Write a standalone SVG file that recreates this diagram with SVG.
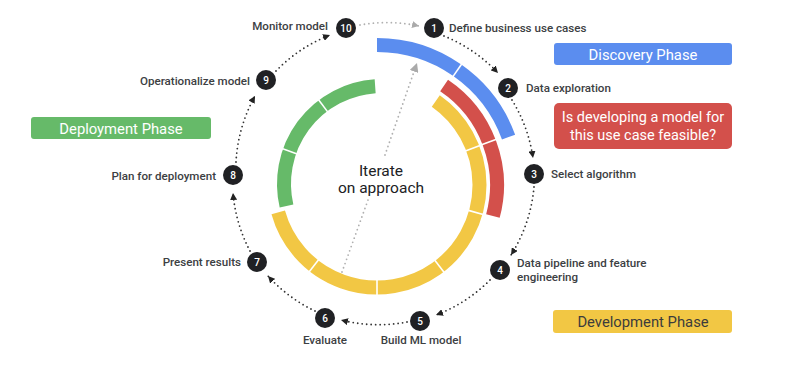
<svg xmlns="http://www.w3.org/2000/svg" width="800" height="366" viewBox="0 0 800 366">
<defs>
<style>
.lbl{font-family:Roboto,"Liberation Sans",sans-serif;font-size:11.6px;font-weight:500;fill:#3c4043}
.num{font-family:Roboto,"Liberation Sans",sans-serif;font-size:10px;font-weight:500;fill:#fff;text-anchor:middle}
.dot{fill:#202124}
.ring{fill:none;stroke-width:14;stroke-linecap:butt}
.sep{stroke:#fff;stroke-width:1.6}
.conn{fill:none;stroke:#333;stroke-width:1.8;stroke-dasharray:0 4.5;stroke-linecap:round}
.gray{stroke:#b0b0b0}
.phase{font-family:Roboto,"Liberation Sans",sans-serif;font-size:14.8px;fill:#fff;text-anchor:middle}
.iter{font-family:Roboto,"Liberation Sans",sans-serif;font-size:15.5px;fill:#202124;text-anchor:middle}
</style>
<marker id="ah" markerUnits="userSpaceOnUse" markerWidth="8" markerHeight="7" refX="7" refY="3.5" orient="auto"><path d="M0,0 L7,3.5 L0,7 z" fill="#222"/></marker>
<marker id="ahg" markerUnits="userSpaceOnUse" markerWidth="8" markerHeight="7" refX="7" refY="3.5" orient="auto"><path d="M0,0 L7,3.5 L0,7 z" fill="#aaa"/></marker>
<marker id="ahb" markerUnits="userSpaceOnUse" markerWidth="10" markerHeight="9" refX="9" refY="4.5" orient="auto"><path d="M0,0 L9,4.5 L0,9 z" fill="#aaa"/></marker>
</defs>
<rect width="800" height="366" fill="#fff"/>

<g id="rings">
<path class="ring" stroke="#f2c744" d="M 435.79 101.03 A 102.5 102.5 0 1 1 278.23 212.39"/>
<path class="ring" stroke="#d3504b" d="M 444.10 85.52 A 120 120 0 0 1 492.91 216.06"/>
<path class="ring" stroke="#5b8def" d="M 377 45 A 140 140 0 0 1 508.56 137.12"/>
<path class="ring" stroke="#66ba69" d="M 286.51 206.05 A 98 98 0 0 1 375.16 86.24"/>
<line class="sep" x1="464.76" y1="151.31" x2="480.63" y2="145.22"/>
<line class="sep" x1="467.58" y1="210.12" x2="483.96" y2="214.66"/>
<line class="sep" x1="434.23" y1="259.58" x2="444.58" y2="273.07"/>
<line class="sep" x1="377" y1="279" x2="377" y2="296"/>
<line class="sep" x1="319.13" y1="259.07" x2="308.66" y2="272.47"/>
<line class="sep" x1="481.56" y1="144.86" x2="496.50" y2="139.13"/>
<line class="sep" x1="452.72" y1="76.87" x2="461.89" y2="63.76"/>
<line class="sep" x1="297.17" y1="153.96" x2="282.08" y2="148.62"/>
<line class="sep" x1="327.84" y1="112.13" x2="318.21" y2="99.35"/>
</g>

<g id="connectors">
<path class="conn gray" marker-end="url(#ahg)" d="M 360 25 A 152 152 0 0 1 419 26"/>
<path class="conn" marker-end="url(#ah)" d="M 444 36 A 152 152 0 0 1 498 73"/>
<path class="conn" marker-end="url(#ah)" d="M 512 100 A 152 152 0 0 1 533 158"/>
<path class="conn" marker-end="url(#ah)" d="M 534 187 A 152 152 0 0 1 511 255"/>
<path class="conn" marker-end="url(#ah)" d="M 490 280 A 152 152 0 0 1 436 315"/>
<path class="conn" marker-end="url(#ah)" d="M 407 322 A 152 152 0 0 1 341 320"/>
<path class="conn" marker-end="url(#ah)" d="M 315 311 A 152 152 0 0 1 268 276"/>
<path class="conn" marker-end="url(#ah)" d="M 250 251 A 152 152 0 0 1 233 193"/>
<path class="conn" marker-end="url(#ah)" d="M 236 162 A 152 152 0 0 1 255 96"/>
<path class="conn" marker-end="url(#ah)" d="M 276 71 A 152 152 0 0 1 330 35"/>
<path class="conn gray" d="M 342 272 L 368 200"/>
<path class="conn gray" marker-end="url(#ahb)" d="M 385 155 L 417 63"/>
</g>

<g id="iterate">
<text class="iter" x="381" y="176">Iterate</text>
<text class="iter" x="381" y="193">on approach</text>
</g>

<g id="n1"><circle class="dot" cx="434" cy="28" r="10"/><text class="num" x="434" y="31.5">1</text><text class="lbl" x="449" y="32">Define business use cases</text></g>
<g id="n2"><circle class="dot" cx="508" cy="88" r="10"/><text class="num" x="508" y="91.5">2</text><text class="lbl" x="526" y="92">Data exploration</text></g>
<g id="n3"><circle class="dot" cx="534" cy="174" r="10"/><text class="num" x="534" y="177.5">3</text><text class="lbl" x="551" y="178">Select algorithm</text></g>
<g id="n4"><circle class="dot" cx="500" cy="270" r="10"/><text class="num" x="500" y="273.5">4</text><text class="lbl" x="517" y="267">Data pipeline and feature</text><text class="lbl" x="517" y="281">engineering</text></g>
<g id="n5"><circle class="dot" cx="420" cy="321" r="10"/><text class="num" x="420" y="324.5">5</text><text class="lbl" x="421" y="344" text-anchor="middle">Build ML model</text></g>
<g id="n6"><circle class="dot" cx="325" cy="318" r="10"/><text class="num" x="325" y="321.5">6</text><text class="lbl" x="325" y="344" text-anchor="middle">Evaluate</text></g>
<g id="n7"><circle class="dot" cx="257" cy="262" r="10"/><text class="num" x="257" y="265.5">7</text><text class="lbl" x="241" y="266" text-anchor="end">Present results</text></g>
<g id="n8"><circle class="dot" cx="233" cy="175" r="10"/><text class="num" x="233" y="178.5">8</text><text class="lbl" x="216" y="180" text-anchor="end">Plan for deployment</text></g>
<g id="n9"><circle class="dot" cx="266" cy="80" r="10"/><text class="num" x="266" y="83.5">9</text><text class="lbl" x="250" y="85" text-anchor="end">Operationalize model</text></g>
<g id="n10"><circle class="dot" cx="346" cy="28" r="10"/><text class="num" x="346" y="31.5">10</text><text class="lbl" x="328" y="30" text-anchor="end">Monitor model</text></g>

<g id="discovery"><rect x="554" y="43" width="178" height="22" rx="3" fill="#5b8def"/><text class="phase" x="643" y="59.5">Discovery Phase</text></g>
<g id="feasible"><rect x="554" y="103" width="178" height="46" rx="5" fill="#d3504b"/><text class="phase" x="643" y="122" style="font-size:14.5px">Is developing a model for</text><text class="phase" x="643" y="140" style="font-size:14.5px">this use case feasible?</text></g>
<g id="deployment"><rect x="31" y="117" width="180" height="22" rx="3" fill="#66ba69"/><text class="phase" x="121" y="133.5">Deployment Phase</text></g>
<g id="development"><rect x="553" y="310" width="179" height="23" rx="3" fill="#f2c744"/><text class="phase" x="643" y="327" style="fill:#3c3c3c">Development Phase</text></g>
</svg>
